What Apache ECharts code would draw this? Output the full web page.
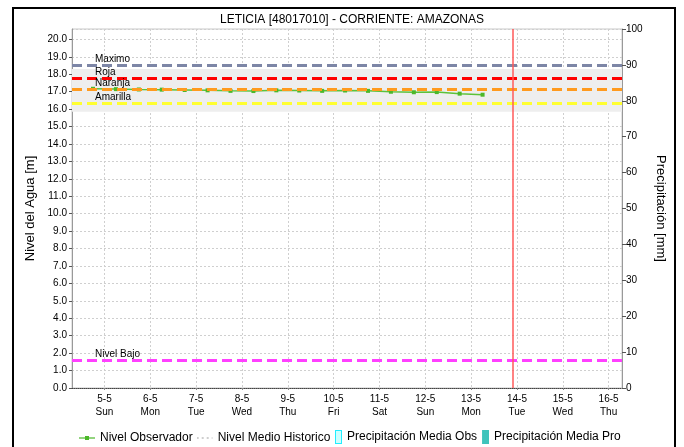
<!DOCTYPE html>
<html><head><meta charset="utf-8">
<script src="https://cdn.jsdelivr.net/npm/echarts@6/dist/echarts.min.js"></script>
<style>html,body{margin:0;padding:0;background:#fff}#c{width:684px;height:447px}</style>
</head><body><div id="c"></div>
<script>
// ---- data ----
const titleText = 'LETICIA [48017010] - CORRIENTE: AMAZONAS';
// x in days of May (day + hour/24)
const obsX = [4.75, 5.25, 5.75, 6.25, 6.75, 7.25, 7.75, 8.25, 8.75, 9.25, 9.75, 10.25, 10.75, 11.25, 11.75, 12.25, 12.75, 13.25];
const obsLevel = [17.17, 17.15, 17.13, 17.12, 17.10, 17.08, 17.05, 17.04, 17.08, 17.07, 17.05, 17.07, 17.05, 17.00, 16.97, 16.98, 16.89, 16.83];
const tickDays = [5, 6, 7, 8, 9, 10, 11, 12, 13, 14, 15, 16];
const tickDate = ['5-5', '6-5', '7-5', '8-5', '9-5', '10-5', '11-5', '12-5', '13-5', '14-5', '15-5', '16-5'];
const tickWeekday = ['Sun', 'Mon', 'Tue', 'Wed', 'Thu', 'Fri', 'Sat', 'Sun', 'Mon', 'Tue', 'Wed', 'Thu'];
const thresholdNames = ['Maximo', 'Roja', 'Naranja', 'Amarilla', 'Nivel Bajo'];
const thresholdValues = [18.5, 17.75, 17.17, 16.36, 1.59];
const thresholdColors = ['#7d86a6', '#ff0000', '#ff9a1e', '#ffff30', '#ff40ff'];
const histBand = [15.85, 18.3];
const nowX = 13.9;
const xRange = [4 + 7 / 24, 16 + 7 / 24];
const levelRange = [0, 20.6];
const precipRange = [0, 100];
const legendNames = ['Nivel Observador', 'Nivel Medio Historico', 'Precipitación Media Obs', 'Precipitación Media Pro'];

const FONT = 'Liberation Sans, Arial, sans-serif';
const chart = echarts.init(document.getElementById('c'), null, {renderer: 'canvas'});

const markLines = thresholdNames.map((n, i) => ({
  yAxis: thresholdValues[i],
  name: n,
  lineStyle: {color: thresholdColors[i], width: 3, type: [10, 5]},
  label: {show: true, formatter: n, position: 'insideStartTop', distance: [23, 1], color: '#000', fontSize: 10, fontFamily: FONT}
}));
markLines.push({xAxis: nowX, lineStyle: {color: '#ff5a5a', width: 1.5, type: 'solid'}, label: {show: false}});

const svg = s => 'image://data:image/svg+xml;utf8,' + encodeURIComponent(s);
const iconObs = svg('<svg xmlns="http://www.w3.org/2000/svg" width="16" height="10"><line x1="0" y1="5" x2="16" y2="5" stroke="#4cb82a" stroke-width="1.2"/><rect x="6" y="3" width="4" height="4" fill="#4cb82a"/></svg>');
const iconHist = svg('<svg xmlns="http://www.w3.org/2000/svg" width="16" height="10"><line x1="0" y1="5" x2="16" y2="5" stroke="#c0c0c0" stroke-width="1.5" stroke-dasharray="2,3"/></svg>');
const iconObsP = svg('<svg xmlns="http://www.w3.org/2000/svg" width="7" height="14"><rect x="0.5" y="0.5" width="6" height="13" fill="#ccffff" stroke="#22eeff" stroke-width="1"/></svg>');
const iconProP = svg('<svg xmlns="http://www.w3.org/2000/svg" width="7" height="14"><rect x="0" y="0" width="7" height="14" fill="#3fc4bc"/></svg>');

const legTxt = {fontSize: 12, color: '#000', fontFamily: FONT};
const option = {
  backgroundColor: '#fff',
  animation: false,
  title: {text: titleText, left: 347, textAlign: 'center', top: 9,
    textStyle: {fontSize: 12, fontWeight: 'normal', color: '#000', fontFamily: FONT}},
  grid: {left: 72, right: 62, top: 29, bottom: 59, show: true, borderColor: '#c8c8c8', borderWidth: 1, backgroundColor: '#fff'},
  legend: [
    {bottom: 3, left: 79, padding: 0, itemGap: 4, itemWidth: 16, itemHeight: 10, textStyle: legTxt,
     data: [{name: legendNames[0], icon: iconObs}, {name: legendNames[1], icon: iconHist}]},
    {bottom: 3, left: 335, padding: 0, itemGap: 5, itemWidth: 7, itemHeight: 14, textStyle: legTxt,
     data: [{name: legendNames[2], icon: iconObsP}, {name: legendNames[3], icon: iconProP}]}
  ],
  xAxis: {
    type: 'value', min: xRange[0], max: xRange[1],
    axisLine: {show: true, lineStyle: {color: '#444', type: [1, 1], width: 1}},
    axisTick: {show: true, length: 2, customValues: tickDays, lineStyle: {color: '#888'}},
    axisLabel: {customValues: tickDays, fontSize: 10, color: '#000', fontFamily: FONT, lineHeight: 13, margin: 5,
      formatter: v => { const i = tickDays.indexOf(Math.round(v)); return i >= 0 ? tickDate[i] + '\n' + tickWeekday[i] : ''; }},
    splitLine: {show: true, lineStyle: {color: '#cfcfcf', type: [2, 2]}}
  },
  yAxis: [
    {type: 'value', min: levelRange[0], max: levelRange[1], interval: 1, position: 'left',
     name: 'Nivel del Agua [m]', nameLocation: 'middle', nameRotate: 90, nameGap: 31,
     nameTextStyle: {fontSize: 13, color: '#000', fontFamily: FONT},
     axisLine: {show: true, lineStyle: {color: '#999'}},
     axisTick: {show: true, length: 3, lineStyle: {color: '#555'}},
     axisLabel: {fontSize: 10, color: '#000', fontFamily: FONT, margin: 5, showMaxLabel: false,
       formatter: v => Math.abs(v - Math.round(v)) < 1e-6 ? v.toFixed(1) : ''},
     splitLine: {show: true, lineStyle: {color: '#cfcfcf', type: [2, 2]}}},
    {type: 'value', min: precipRange[0], max: precipRange[1], interval: 10, position: 'right',
     name: 'Precipitación [mm]', nameLocation: 'middle', nameRotate: -90, nameGap: 25,
     nameTextStyle: {fontSize: 13, color: '#000', fontFamily: FONT},
     axisLine: {show: true, lineStyle: {color: '#999'}},
     axisTick: {show: true, length: 4, lineStyle: {color: '#555'}},
     axisLabel: {fontSize: 10, color: '#000', fontFamily: FONT, margin: 4},
     splitLine: {show: false}}
  ],
  series: [
    {name: legendNames[1], type: 'line', yAxisIndex: 0, data: [], symbol: 'none',
     lineStyle: {color: '#c0c0c0', type: [2, 3], width: 2}, itemStyle: {color: '#c0c0c0'},
     markArea: {silent: true, itemStyle: {color: '#eeeeee'}, data: [[{yAxis: histBand[0]}, {yAxis: histBand[1]}]]},
     z: 1},
    {name: legendNames[2], type: 'bar', yAxisIndex: 1, data: [], itemStyle: {color: '#ccffff', borderColor: '#22eeff'}},
    {name: legendNames[3], type: 'bar', yAxisIndex: 1, data: [], itemStyle: {color: '#3fc4bc'}},
    {name: 'thresholds', type: 'line', yAxisIndex: 0, data: [], symbol: 'none',
     markLine: {silent: true, symbol: 'none', data: markLines}, z: 3},
    {name: legendNames[0], type: 'line', yAxisIndex: 0,
     data: obsX.map((x, i) => [x, obsLevel[i]]),
     symbol: 'rect', symbolSize: 4, showSymbol: true,
     lineStyle: {color: '#5cc23a', width: 1.5}, itemStyle: {color: '#4cb82a'}, z: 4}
  ],
  graphic: [
    {type: 'rect', shape: {x: 13, y: 8, width: 662, height: 445}, style: {fill: 'none', stroke: '#000', lineWidth: 2}, z: 100}
  ]
};
chart.setOption(option);
</script></body></html>
